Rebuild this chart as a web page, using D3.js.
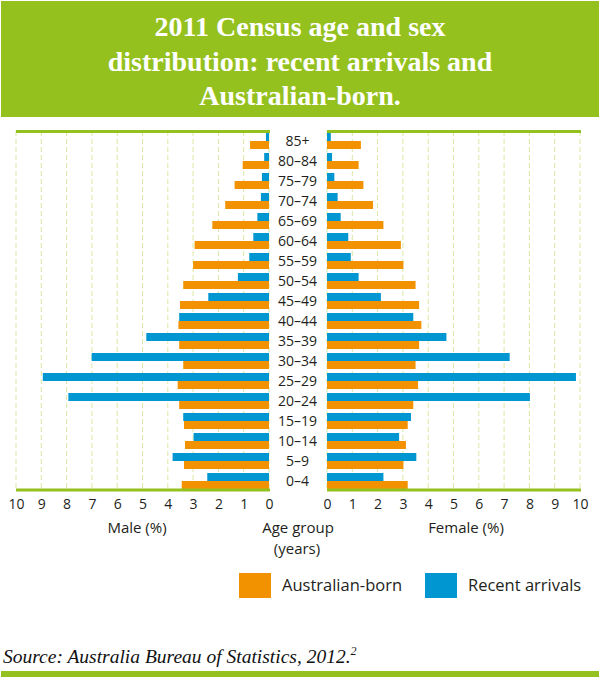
<!DOCTYPE html>
<html>
<head>
<meta charset="utf-8">
<script src="https://cdn.jsdelivr.net/npm/d3@7"></script>
<style>
  html, body { margin: 0; padding: 0; background: #fff; }
  svg { display: block; }
</style>
</head>
<body>
<svg id="chart" width="600" height="678"></svg>
<script>
// ---- Data ----
const ageGroups = ["0–4","5–9","10–14","15–19","20–24","25–29","30–34","35–39","40–44","45–49","50–54","55–59","60–64","65–69","70–74","75–79","80–84","85+"];
const maleAustralian   = [3.45,3.36,3.32,3.36,3.55,3.61,3.39,3.55,3.58,3.52,3.39,3.00,2.94,2.24,1.73,1.36,1.04,0.75];
const maleRecent       = [2.44,3.81,2.98,3.39,7.93,8.94,7.01,4.85,3.55,2.40,1.23,0.78,0.62,0.46,0.32,0.28,0.19,0.12];
const femaleAustralian = [3.19,3.02,3.12,3.19,3.41,3.60,3.50,3.64,3.73,3.64,3.50,3.02,2.92,2.23,1.82,1.44,1.25,1.34];
const femaleRecent     = [2.23,3.53,2.85,3.32,8.02,9.84,7.22,4.72,3.41,2.13,1.25,0.94,0.84,0.54,0.42,0.29,0.20,0.15];
const tickValues = [0,1,2,3,4,5,6,7,8,9,10];
const seriesNames = ["Recent arrivals","Australian-born"];
const titleLines = ["2011 Census age and sex","distribution: recent arrivals and","Australian-born."];

// ---- Styles ----
const GREEN = "#95c11f", ORANGE = "#f39200", BLUE = "#0096d1", GRID = "#d9e7a3", TEXT = "#231f20";
const SANS = "'Open Sans', 'Noto Sans', sans-serif";
const SERIF = "'Liberation Serif', 'Times New Roman', serif";
const colour = d3.scaleOrdinal().domain(seriesNames).range([BLUE, ORANGE]);

const svg = d3.select("#chart");

// Header
svg.append("rect").attr("x",1).attr("y",1).attr("width",598).attr("height",116).attr("fill",GREEN);
svg.append("g").selectAll("text").data(titleLines).join("text")
  .attr("x",300).attr("y",(d,i)=>36 + i*34.5)
  .attr("text-anchor","middle").attr("fill","#fff")
  .style("font-family",SERIF).style("font-weight","bold").style("font-size","28px")
  .text(d=>d);

// Scales
const xL = d3.scaleLinear().domain([0,10]).range([269,16]);
const xR = d3.scaleLinear().domain([0,10]).range([327,580]);
const y = d3.scaleBand().domain(ageGroups.slice().reverse()).range([131,491]).paddingInner(0.2).paddingOuter(0.1);
const sub = d3.scaleBand().domain(seriesNames).range([0,y.bandwidth()]);

function panel(x, male) {
  const g = svg.append("g");
  // gridlines
  g.selectAll("line.grid").data(tickValues).join("line")
    .attr("x1",d=>x(d)).attr("x2",d=>x(d)).attr("y1",131).attr("y2",490)
    .attr("stroke",GRID).attr("stroke-width",1).attr("stroke-dasharray","5,3");
  const aus = male ? maleAustralian : femaleAustralian;
  const rec = male ? maleRecent : femaleRecent;
  const rows = [];
  ageGroups.forEach((a,i)=>{
    rows.push({age:a, s:"Recent arrivals", v:rec[i]});
    rows.push({age:a, s:"Australian-born", v:aus[i]});
  });
  g.selectAll("rect.bar").data(rows).join("rect")
    .attr("x",d=>Math.min(x(0),x(d.v)))
    .attr("width",d=>Math.abs(x(d.v)-x(0)))
    .attr("y",d=>y(d.age)+sub(d.s))
    .attr("height",sub.bandwidth())
    .attr("fill",d=>colour(d.s));
  // top and bottom lines
  const r = x.range();
  [131.5, 490].forEach(yy=>{
    g.append("line").attr("x1",Math.min(...r)).attr("x2",Math.max(...r)+1)
      .attr("y1",yy).attr("y2",yy).attr("stroke",GREEN).attr("stroke-width",3);
  });
  // axis
  const ax = g.append("g").attr("transform","translate(0,490)")
    .call(d3.axisBottom(x).tickValues(tickValues).tickSize(0).tickPadding(9).tickFormat(d3.format("d")));
  ax.select(".domain").remove();
  ax.selectAll("text").style("font-family",SANS).style("font-size","14px").attr("fill",TEXT);
}
panel(xL, true);
panel(xR, false);

// Age labels
svg.append("g").selectAll("text").data(ageGroups).join("text")
  .attr("x",297.5).attr("y",d=>y(d)+y.bandwidth()/2).attr("dy","0.35em")
  .attr("text-anchor","middle").attr("fill",TEXT)
  .style("font-family",SANS).style("font-size","14px").text(d=>d);

// Axis titles
const titles = [
  {t:"Male (%)", x:137, y:533},
  {t:"Age group", x:298, y:533},
  {t:"(years)", x:297, y:554},
  {t:"Female (%)", x:466, y:533}
];
svg.append("g").selectAll("text").data(titles).join("text")
  .attr("x",d=>d.x).attr("y",d=>d.y).attr("text-anchor","middle").attr("fill",TEXT)
  .style("font-family",SANS).style("font-size","15px").text(d=>d.t);

// Legend
const legend = [
  {s:"Australian-born", x:239},
  {s:"Recent arrivals", x:425}
];
const lg = svg.append("g").selectAll("g").data(legend).join("g")
  .attr("transform",d=>`translate(${d.x},573)`);
lg.append("rect").attr("width",32).attr("height",25).attr("fill",d=>colour(d.s));
lg.append("text").attr("x",43).attr("y",12.5).attr("dy","0.35em").attr("fill",TEXT)
  .style("font-family",SANS).style("font-size","16.5px").text(d=>d.s);

// Source
const src = svg.append("text").attr("x",3).attr("y",663).attr("fill","#111")
  .style("font-family",SERIF).style("font-style","italic").style("font-size","19.5px");
src.append("tspan").text("Source: Australia Bureau of Statistics, 2012.");
src.append("tspan").attr("dy","-8").style("font-size","12px").text("2");

// Bottom bar
svg.append("rect").attr("x",1).attr("y",671).attr("width",598).attr("height",6).attr("fill",GREEN);
</script>
</body>
</html>
